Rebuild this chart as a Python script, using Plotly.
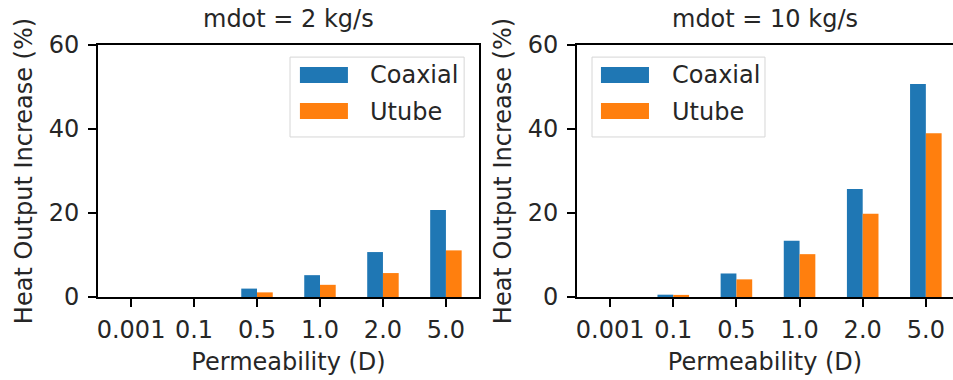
import plotly.graph_objects as go
from plotly.subplots import make_subplots

categories = ["0.001", "0.1", "0.5", "1.0", "2.0", "5.0"]
coax_2 = [0.0, 0.0, 2.0, 5.2, 10.7, 20.7]
utube_2 = [0.0, 0.0, 1.1, 2.9, 5.7, 11.1]
coax_10 = [0.0, 0.55, 5.6, 13.4, 25.7, 50.7]
utube_10 = [0.0, 0.5, 4.2, 10.2, 19.8, 39.0]
series_names = ["Coaxial", "Utube"]
titles = ["mdot = 2 kg/s", "mdot = 10 kg/s"]
yticks = [0, 20, 40, 60]

BLUE = "#1f77b4"
ORANGE = "#ff7f0e"
COLORS = [BLUE, ORANGE]
FONT = "DejaVu Sans"
FS = 24
TXT = "#262626"

xpos = list(range(len(categories)))

fig = make_subplots(rows=1, cols=2, horizontal_spacing=0.0)

panels = [(coax_2, utube_2), (coax_10, utube_10)]
for col, vals in enumerate(panels, start=1):
    for name, color, v in zip(series_names, COLORS, vals):
        fig.add_trace(go.Bar(x=xpos, y=v, name=name, marker=dict(color=color, line_width=0),
                             showlegend=False), row=1, col=col)

axis_common = dict(showgrid=False, zeroline=False, showline=True, linecolor="black", linewidth=1.9,
                   ticks="outside", ticklen=8, tickwidth=1.9, tickcolor="black",
                   tickfont=dict(family=FONT, size=FS, color=TXT))

fig.update_xaxes(**axis_common, tickvals=xpos, ticktext=categories, ticklabelstandoff=2,
                 title=dict(text="Permeability (D)", font=dict(family=FONT, size=FS, color=TXT), standoff=10))
fig.update_yaxes(**axis_common, range=[0, 60], tickvals=yticks, ticklabelstandoff=4,
                 title=dict(text="Heat Output Increase (%)", font=dict(family=FONT, size=FS, color=TXT), standoff=9))

fig.update_xaxes(domain=[0, 0.4456], range=[-0.525, 5.525], mirror=True, row=1, col=1)
fig.update_xaxes(domain=[0.5602, 1.0], range=[-0.525, 5.43], mirror=True, row=1, col=2)
fig.update_yaxes(mirror=True, row=1, col=1)
fig.update_yaxes(mirror=False, row=1, col=2)

for i, t in enumerate(titles):
    xr = "x domain" if i == 0 else "x2 domain"
    fig.add_annotation(text=t, xref=xr, yref="paper", x=0.5, y=1, yshift=10,
                       xanchor="center", yanchor="bottom", showarrow=False,
                       font=dict(family=FONT, size=FS, color=TXT))

# legends drawn matplotlib-style (box, wide swatches, labels), in axis-domain coordinates
legend_specs = [
    # (xref, yref, box x0, box x1, swatch x0, swatch x1, text x)
    ("x domain", "y domain", 0.504, 0.961, 0.530, 0.656, 0.709),
    ("x2 domain", "y2 domain", 0.040, 0.500, 0.0638, 0.1915, 0.247),
]
box_y0, box_y1 = 0.635, 0.952
sw_rows = [(0.849, 0.913, 0.881), (0.706, 0.770, 0.736)]
for xr, yr, bx0, bx1, sx0, sx1, tx in legend_specs:
    fig.add_shape(type="rect", xref=xr, yref=yr, x0=bx0, x1=bx1, y0=box_y0, y1=box_y1,
                  line=dict(color="#d6d6d6", width=1), fillcolor="rgba(255,255,255,0.8)", layer="above")
    for (y0, y1, ty), name, color in zip(sw_rows, series_names, COLORS):
        fig.add_shape(type="rect", xref=xr, yref=yr, x0=sx0, x1=sx1, y0=y0, y1=y1,
                      line=dict(width=0), fillcolor=color, layer="above")
        fig.add_annotation(text=name, xref=xr, yref=yr, x=tx, y=ty, xanchor="left", yanchor="middle",
                           showarrow=False, font=dict(family=FONT, size=FS, color=TXT))

fig.update_layout(
    width=953, height=380,
    margin=dict(l=98, r=0, t=45, b=83),
    plot_bgcolor="white", paper_bgcolor="white",
    barmode="group", bargap=0.5, bargroupgap=0.0,
    font=dict(family=FONT, size=FS, color=TXT),
    showlegend=False,
)

fig.write_html("out.html", config={"displayModeBar": False},
               post_script="document.body.style.margin='0';")
